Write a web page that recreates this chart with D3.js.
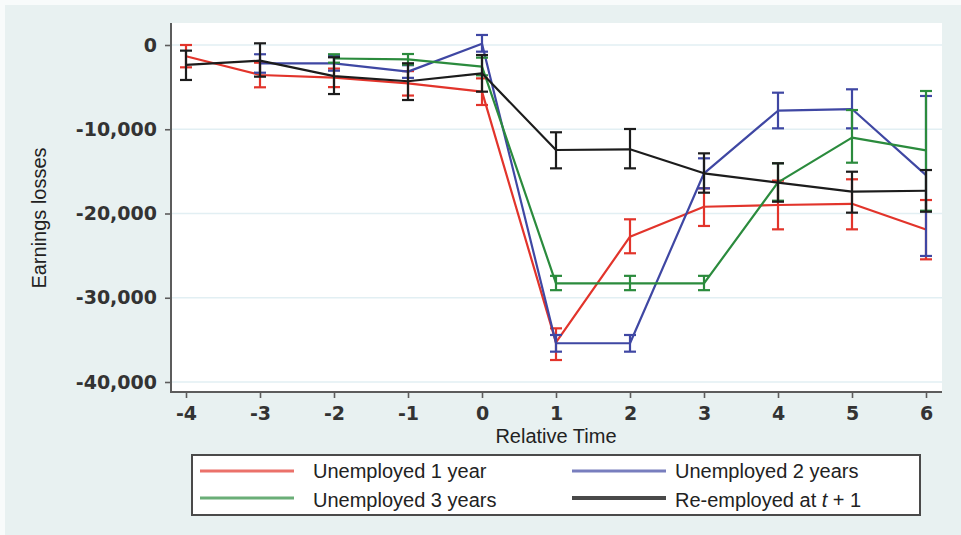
<!DOCTYPE html>
<html>
<head>
<meta charset="utf-8">
<script src="https://cdn.jsdelivr.net/npm/d3@7/dist/d3.min.js"></script>
<style>
  html, body { margin: 0; padding: 0; background: #f8fbfb; }
  svg { display: block; }
</style>
</head>
<body>
<svg id="chart" width="961" height="535"></svg>
<script>
// Relative time (years around job loss)
const times = [-4, -3, -2, -1, 0, 1, 2, 3, 4, 5, 6];

// Earnings losses with confidence bounds (null = not estimated)
const unemp1   = [-1330, -3560, -3880, -4550, -5540, -35300, -22750, -19200, -18990, -18850, -21900];
const unemp1Hi = [0, -2100, -2800, -3100, -3960, -33630, -20690, -17010, -16100, -15940, -18400];
const unemp1Lo = [-2650, -5020, -5000, -6000, -7120, -37390, -24720, -21480, -21880, -21880, -25440];

const unemp2   = [null, -2170, -2170, -3160, 150, -35400, -35400, -15230, -7800, -7600, -15450];
const unemp2Hi = [null, -1100, -1300, -2400, 1190, -34420, -34420, -13450, -5660, -5260, -6050];
const unemp2Lo = [null, -3290, -3050, -3900, -790, -36400, -36400, -17010, -9890, -9890, -25040];

const unemp3   = [null, null, -1600, -1700, -2570, -28300, -28300, -28300, -16300, -11000, -12500];
const unemp3Hi = [null, null, -1100, -1070, -1500, -27400, -27400, -27400, -14040, -7720, -5460];
const unemp3Lo = [null, null, -2100, -2330, -3600, -29100, -29100, -29100, -18480, -13970, -19670];

const reemp   = [-2350, -1860, -3700, -4300, -3360, -12460, -12380, -15230, -16340, -17410, -17300];
const reempHi = [-670, 200, -1460, -2170, -1190, -10360, -9970, -12860, -14040, -15040, -14840];
const reempLo = [-4150, -3760, -5820, -6530, -5540, -14640, -14640, -17530, -18600, -19900, -19790];

const yTicks = [0, -10000, -20000, -30000, -40000];
const xTicks = times;

const seriesNames = ["Unemployed 1 year", "Unemployed 2 years", "Unemployed 3 years", "Re-employed at t + 1"];
const seriesColors = ["#e2342b", "#3f47a3", "#2b8b3d", "#1c1c1c"];

const series = [
  { name: seriesNames[0], color: seriesColors[0], v: unemp1, hi: unemp1Hi, lo: unemp1Lo },
  { name: seriesNames[1], color: seriesColors[1], v: unemp2, hi: unemp2Hi, lo: unemp2Lo },
  { name: seriesNames[2], color: seriesColors[2], v: unemp3, hi: unemp3Hi, lo: unemp3Lo },
  { name: seriesNames[3], color: seriesColors[3], v: reemp,  hi: reempHi,  lo: reempLo }
];

const locale = d3.formatLocale({ decimal: ".", thousands: ",", grouping: [3], currency: ["$", ""], minus: "-" });
const fmtY = locale.format(",");
const fmtX = locale.format("d");

const svg = d3.select("#chart");

// outer panel
svg.append("rect").attr("x", 5).attr("y", 5).attr("width", 956).attr("height", 530).attr("fill", "#e8f1f1");

// plot region
const plot = { left: 171, right: 942, top: 23, bottom: 392 };
svg.append("rect")
  .attr("x", plot.left).attr("y", plot.top)
  .attr("width", plot.right - plot.left).attr("height", plot.bottom - plot.top)
  .attr("fill", "#ffffff");

const x = d3.scaleLinear().domain([-4, 6]).range([186, 926]);
const y = d3.scaleLinear().domain([0, -40000]).range([45, 382]);

// gridlines
svg.append("g").selectAll("line").data(yTicks).join("line")
  .attr("x1", plot.left).attr("x2", plot.right)
  .attr("y1", d => y(d)).attr("y2", d => y(d))
  .attr("stroke", "#e2eff3").attr("stroke-width", 1.5);

// axes
const yAxis = svg.append("g").attr("transform", `translate(${plot.left},0)`)
  .call(d3.axisLeft(y).tickValues(yTicks).tickFormat(fmtY).tickSize(6).tickPadding(8));
const xAxis = svg.append("g").attr("transform", `translate(0,${plot.bottom})`)
  .call(d3.axisBottom(x).tickValues(xTicks).tickFormat(fmtX).tickSize(6).tickPadding(9));

[yAxis, xAxis].forEach(g => {
  g.select(".domain").remove();
  g.selectAll(".tick line").attr("stroke", "#5c5c5c").attr("stroke-width", 1.6);
  g.selectAll(".tick text")
    .attr("fill", "#333")
    .style("font-family", "'DejaVu Sans', sans-serif")
    .style("font-weight", "bold")
    .style("font-size", "19px");
});

// axis lines
svg.append("line").attr("x1", plot.left).attr("x2", plot.left).attr("y1", plot.top).attr("y2", plot.bottom + 1)
  .attr("stroke", "#5c5c5c").attr("stroke-width", 2);
svg.append("line").attr("x1", plot.left - 1).attr("x2", plot.right).attr("y1", plot.bottom).attr("y2", plot.bottom)
  .attr("stroke", "#5c5c5c").attr("stroke-width", 2);

// axis titles
svg.append("text")
  .attr("transform", "translate(46,218) rotate(-90)")
  .attr("text-anchor", "middle")
  .style("font-family", "'Liberation Sans', Arial, sans-serif")
  .style("font-size", "20px").attr("fill", "#222")
  .text("Earnings losses");
svg.append("text")
  .attr("x", 556).attr("y", 443)
  .attr("text-anchor", "middle")
  .style("font-family", "'Liberation Sans', Arial, sans-serif")
  .style("font-size", "20px").attr("fill", "#222")
  .text("Relative Time");

// series: error caps then connecting line
const capW = 6;
const line = d3.line().defined(d => d.v !== null).x(d => x(d.t)).y(d => y(d.v));
series.forEach(s => {
  const pts = times.map((t, i) => ({ t, v: s.v[i], hi: s.hi[i], lo: s.lo[i] })).filter(d => d.v !== null);
  const g = svg.append("g").attr("stroke", s.color).attr("stroke-width", 2.2).attr("fill", "none");
  g.selectAll("line.bar").data(pts).join("line").attr("class", "bar")
    .attr("x1", d => x(d.t)).attr("x2", d => x(d.t)).attr("y1", d => y(d.hi)).attr("y2", d => y(d.lo));
  g.selectAll("line.capHi").data(pts).join("line").attr("class", "capHi")
    .attr("x1", d => x(d.t) - capW).attr("x2", d => x(d.t) + capW).attr("y1", d => y(d.hi)).attr("y2", d => y(d.hi));
  g.selectAll("line.capLo").data(pts).join("line").attr("class", "capLo")
    .attr("x1", d => x(d.t) - capW).attr("x2", d => x(d.t) + capW).attr("y1", d => y(d.lo)).attr("y2", d => y(d.lo));
  g.append("path").attr("d", line(pts)).attr("stroke-linejoin", "round");
});

// legend
const legend = svg.append("g");
legend.append("rect").attr("x", 192).attr("y", 455).attr("width", 728).attr("height", 60)
  .attr("fill", "#ffffff").attr("stroke", "#4a4a4a").attr("stroke-width", 2);
const legPos = [
  { lx: 200, ly: 471, tx: 313, ty: 478 },
  { lx: 572, ly: 471, tx: 675, ty: 478 },
  { lx: 200, ly: 498, tx: 313, ty: 507 },
  { lx: 572, ly: 498, tx: 675, ty: 507 }
];
series.forEach((s, i) => {
  const p = legPos[i];
  legend.append("line").attr("x1", p.lx).attr("x2", p.lx + 94).attr("y1", p.ly).attr("y2", p.ly)
    .attr("stroke", s.color).attr("stroke-opacity", i === 3 ? 0.8 : 0.7)
    .attr("stroke-width", i === 3 ? 4 : 3);
  const t = legend.append("text").attr("x", p.tx).attr("y", p.ty)
    .style("font-family", "'Liberation Sans', Arial, sans-serif")
    .style("font-size", "20px").attr("fill", "#222");
  if (i === 3) {
    t.append("tspan").text("Re-employed at ");
    t.append("tspan").style("font-style", "italic").text("t");
    t.append("tspan").text(" + 1");
  } else {
    t.text(s.name);
  }
});
</script>
</body>
</html>
